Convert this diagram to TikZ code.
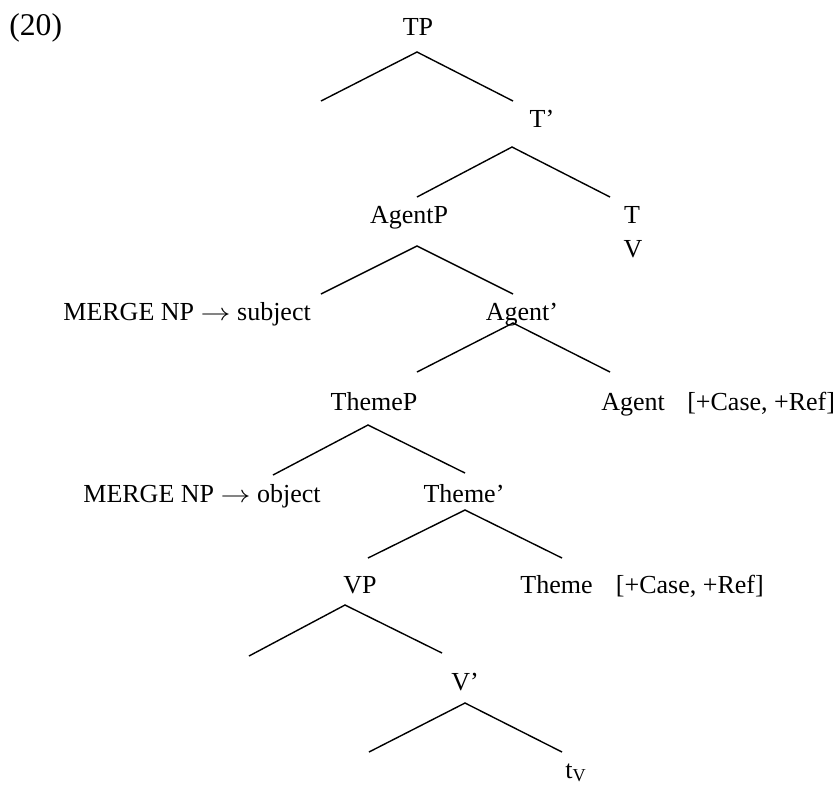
\documentclass[tikz,border=0pt]{standalone}
\usepackage{fontspec}
\setmainfont{Liberation Serif}
\newcommand{\mergearrow}{\scalebox{1.25}[1]{$\rightarrow$}}
\begin{document}
\begin{tikzpicture}[x=0.5pt,y=0.5pt]
\tikzstyle{every node}+=[inner sep=0pt, font=\fontsize{13}{16}\selectfont]
\tikzstyle{branch}=[black, line width=0.7pt]
\useasboundingbox (0,0) rectangle (835,-784);
\node [anchor=base west, font=\fontsize{15.8}{19}\selectfont] (ex) at (9,-35) {(20)};
\node [anchor=base] (tp) at (418,-35) {TP};
\node [anchor=base] (tbar) at (542,-127) {T’};
\node [anchor=base] (agentp) at (409,-223) {AgentP};
\node [anchor=base] (t) at (632,-223) {T};
\node [anchor=base] (v) at (633,-257) {V};
\node [anchor=base west] (subj) at (63,-320) {MERGE NP \mergearrow{} subject};
\node [anchor=base] (agentbar) at (522,-320) {Agent’};
\node [anchor=base] (themep) at (374,-410) {ThemeP};
\node [anchor=base west] (agent) at (601,-410) {Agent\hspace{0.86em}[+Case, +Ref]};
\node [anchor=base west] (obj) at (83,-502) {MERGE NP \mergearrow{} object};
\node [anchor=base] (themebar) at (464,-502) {Theme’};
\node [anchor=base] (vp) at (360,-593) {VP};
\node [anchor=base west] (theme) at (520,-593) {Theme\hspace{0.9em}[+Case, +Ref]};
\node [anchor=base] (vbar) at (465,-690) {V’};
\node [anchor=base west] (tv) at (565,-778) {t\textsubscript{V}};
% branch points
\coordinate (tpA) at (417,-52);
\coordinate (tpL) at (321,-101);
\coordinate (tpR) at (513,-101);
\coordinate (tbarA) at (512,-147);
\coordinate (tbarL) at (417,-197);
\coordinate (tbarR) at (610,-197);
\coordinate (agentpA) at (417,-246);
\coordinate (agentpL) at (321,-294);
\coordinate (agentpR) at (513,-294);
\coordinate (agentbarA) at (513,-323);
\coordinate (agentbarL) at (417,-372);
\coordinate (agentbarR) at (610,-372);
\coordinate (themepA) at (368,-425);
\coordinate (themepL) at (273,-475);
\coordinate (themepR) at (465,-473);
\coordinate (themebarA) at (465,-510);
\coordinate (themebarL) at (368,-558);
\coordinate (themebarR) at (562,-558);
\coordinate (vpA) at (345,-605);
\coordinate (vpL) at (249,-656);
\coordinate (vpR) at (442,-653);
\coordinate (vbarA) at (465,-703);
\coordinate (vbarL) at (369,-752);
\coordinate (vbarR) at (562,-752);
\draw [branch] (tpL) -- (tpA) -- (tpR);
\draw [branch] (tbarL) -- (tbarA) -- (tbarR);
\draw [branch] (agentpL) -- (agentpA) -- (agentpR);
\draw [branch] (agentbarL) -- (agentbarA) -- (agentbarR);
\draw [branch] (themepL) -- (themepA) -- (themepR);
\draw [branch] (themebarL) -- (themebarA) -- (themebarR);
\draw [branch] (vpL) -- (vpA) -- (vpR);
\draw [branch] (vbarL) -- (vbarA) -- (vbarR);
\end{tikzpicture}
\end{document}
